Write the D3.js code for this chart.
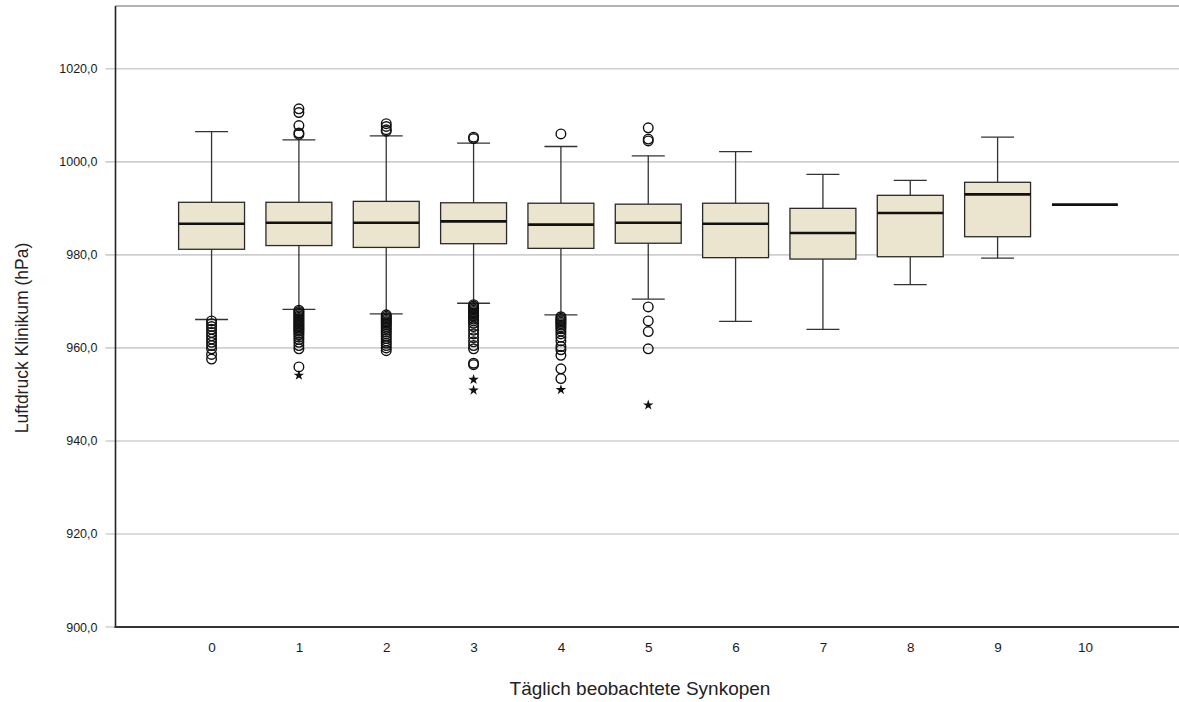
<!DOCTYPE html>
<html>
<head>
<meta charset="utf-8">
<script src="https://cdn.jsdelivr.net/npm/d3@7"></script>
<style>
  body { margin: 0; background: #fff; }
  text { font-family: "Liberation Sans", Arial, sans-serif; fill: #222; }
</style>
</head>
<body>
<script>
//data
var categories = [0, 1, 2, 3, 4, 5, 6, 7, 8, 9, 10];
var lowWhisker = [966.1, 968.3, 967.3, 969.6, 967.1, 970.5, 965.7, 964.0, 973.6, 979.3, 990.8];
var q1 = [981.2, 982.0, 981.6, 982.4, 981.4, 982.5, 979.4, 979.1, 979.6, 983.9, 990.8];
var medians = [986.7, 986.9, 986.9, 987.2, 986.5, 986.9, 986.7, 984.7, 989.0, 993.0, 990.8];
var q3 = [991.3, 991.3, 991.5, 991.2, 991.1, 990.9, 991.1, 990.0, 992.8, 995.6, 990.8];
var highWhisker = [1006.5, 1004.7, 1005.6, 1004.0, 1003.3, 1001.3, 1002.2, 997.3, 996.0, 1005.3, 990.8];

//outliers (circles) per category
var outliers = [
    [965.8, 965.2, 964.6, 964.0, 963.3, 962.6, 961.9, 961.2, 960.5, 959.8, 958.6, 957.6],
    [1011.4, 1010.6, 1007.8, 1006.2, 1005.9,
     968.1, 967.8, 967.5, 967.2, 966.9, 966.6, 966.3, 966.0, 965.7, 965.4, 965.1, 964.8, 964.5,
     964.2, 963.9, 963.6, 963.2, 962.8, 962.3, 961.8, 961.2, 960.5, 959.8, 955.9],
    [1008.2, 1007.6, 1006.9, 1006.6,
     967.1, 966.8, 966.5, 966.2, 965.9, 965.6, 965.3, 965.0, 964.6, 964.2, 963.8, 963.4, 963.0,
     962.5, 962.0, 961.5, 961.0, 960.5, 960.0, 959.4],
    [1005.3, 1005.0,
     969.3, 969.0, 968.7, 968.4, 968.1, 967.8, 967.5, 967.2, 966.9, 966.6, 966.2, 965.8, 965.3,
     964.6, 963.8, 963.0, 962.2, 961.3, 960.5, 959.8, 956.7, 956.4],
    [1006.0,
     966.7, 966.4, 966.1, 965.8, 965.5, 965.2, 964.9, 964.5, 964.1, 963.6, 963.0, 962.3, 961.5,
     960.3, 959.6, 958.4, 955.5, 953.4],
    [1007.3, 1004.9, 1004.5, 968.8, 965.8, 963.5, 959.8],
    [], [], [], [], []
];
//extremes (stars) per category
var extremes = [[], [954.1], [], [953.2, 950.9], [951.0], [947.7], [], [], [], [], []];

var yTicks = [900, 920, 940, 960, 980, 1000, 1020];

var w = 1179, h = 702;
var plotL = 115.5, plotT = 6, plotB = 627, plotR = 1181;

var svg = d3.select("body").append("svg")
    .attr("width", w)
    .attr("height", h);

var x = d3.scalePoint()
    .domain(categories)
    .range([plotL, plotR])
    .padding(1.1);

var y = d3.scaleLinear()
    .domain([900, 1033.5])
    .range([plotB, plotT]);

var boxW = x.step() * 0.755;
var capW = boxW / 2;

//gridlines (they poke out left of the axis like ticks)
svg.append("g").selectAll("line")
    .data(yTicks)
    .enter()
    .append("line")
    .attr("x1", plotL - 10)
    .attr("x2", w)
    .attr("y1", function(d){ return y(d); })
    .attr("y2", function(d){ return y(d); })
    .style("stroke", "#cfcfcf")
    .style("stroke-width", 1.6);

//y tick labels via axis
var yAxis = svg.append("g")
    .attr("transform", "translate(" + (plotL - 18) + ",0)")
    .call(d3.axisLeft(y).tickValues(yTicks).tickSize(0).tickFormat(function(d){
        return d3.format(".1f")(d).replace(".", ",");
    }));
yAxis.select(".domain").remove();
yAxis.selectAll("text")
    .attr("x", 0)
    .style("font-size", "12.5px")
    .style("font-family", "'Liberation Sans', Arial, sans-serif")
    .style("fill", "#1a1a1a");

//frame: top border, left + bottom axes
svg.append("line")
    .attr("x1", plotL).attr("x2", w)
    .attr("y1", plotT).attr("y2", plotT)
    .style("stroke", "#666").style("stroke-width", 1);
svg.append("line")
    .attr("x1", plotL).attr("x2", plotL)
    .attr("y1", plotT).attr("y2", plotB)
    .style("stroke", "#222").style("stroke-width", 1.6);
svg.append("line")
    .attr("x1", plotL - 1).attr("x2", w)
    .attr("y1", plotB).attr("y2", plotB)
    .style("stroke", "#333").style("stroke-width", 2);

//x tick labels via axis
var xAxis = svg.append("g")
    .attr("transform", "translate(0," + (plotB + 12) + ")")
    .call(d3.axisBottom(x).tickSize(0));
xAxis.select(".domain").remove();
xAxis.selectAll("text")
    .style("font-size", "13.5px")
    .style("font-family", "'Liberation Sans Narrow', 'Liberation Sans', Arial, sans-serif")
    .style("fill", "#1a1a1a");

var boxes = svg.selectAll(".box")
    .data(categories)
    .enter()
    .append("g")
    .attr("class", "box");

//whiskers
boxes.append("line")
    .attr("x1", function(d){ return x(d); })
    .attr("x2", function(d){ return x(d); })
    .attr("y1", function(d, i){ return y(highWhisker[i]); })
    .attr("y2", function(d, i){ return y(q3[i]); })
    .style("stroke", "#333").style("stroke-width", 1.3);
boxes.append("line")
    .attr("x1", function(d){ return x(d); })
    .attr("x2", function(d){ return x(d); })
    .attr("y1", function(d, i){ return y(q1[i]); })
    .attr("y2", function(d, i){ return y(lowWhisker[i]); })
    .style("stroke", "#333").style("stroke-width", 1.3);

//caps (skip the degenerate box)
boxes.filter(function(d, i){ return highWhisker[i] !== lowWhisker[i]; })
    .each(function(d){
        var i = categories.indexOf(d);
        var g = d3.select(this);
        [highWhisker[i], lowWhisker[i]].forEach(function(v){
            g.append("line")
                .attr("x1", x(d) - capW / 2)
                .attr("x2", x(d) + capW / 2)
                .attr("y1", y(v))
                .attr("y2", y(v))
                .style("stroke", "#333").style("stroke-width", 1.3);
        });
    });

//box
boxes.filter(function(d, i){ return q3[i] !== q1[i]; })
    .append("rect")
    .attr("x", function(d){ return x(d) - boxW / 2; })
    .attr("width", boxW)
    .attr("y", function(d){ return y(q3[categories.indexOf(d)]); })
    .attr("height", function(d){
        var i = categories.indexOf(d);
        return y(q1[i]) - y(q3[i]);
    })
    .style("fill", "#ebe5d0")
    .style("stroke", "#2a2a2a")
    .style("stroke-width", 1.3);

//median
boxes.append("line")
    .attr("x1", function(d){ return x(d) - boxW / 2; })
    .attr("x2", function(d){ return x(d) + boxW / 2; })
    .attr("y1", function(d, i){ return y(medians[i]); })
    .attr("y2", function(d, i){ return y(medians[i]); })
    .style("stroke", "#111").style("stroke-width", 2.6);

//outlier circles
boxes.selectAll(".outlier")
    .data(function(d, i){ return outliers[i].map(function(v){ return {c: d, v: v}; }); })
    .enter()
    .append("circle")
    .attr("class", "outlier")
    .attr("cx", function(d){ return x(d.c); })
    .attr("cy", function(d){ return y(d.v); })
    .attr("r", 4.8)
    .style("fill", "none")
    .style("stroke", "#111")
    .style("stroke-width", 1.4);

//extreme stars
var star = d3.symbol().type(d3.symbolStar).size(34);
boxes.selectAll(".extreme")
    .data(function(d, i){ return extremes[i].map(function(v){ return {c: d, v: v}; }); })
    .enter()
    .append("path")
    .attr("class", "extreme")
    .attr("d", star)
    .attr("transform", function(d){ return "translate(" + x(d.c) + "," + y(d.v) + ")"; })
    .style("fill", "#111");

//axis titles
svg.append("text")
    .attr("text-anchor", "middle")
    .attr("x", 640)
    .attr("y", 695)
    .style("font-size", "19px")
    .text("Täglich beobachtete Synkopen");

svg.append("text")
    .attr("text-anchor", "middle")
    .attr("transform", "translate(28,338) rotate(-90)")
    .style("font-size", "17.5px")
    .text("Luftdruck Klinikum (hPa)");
</script>
</body>
</html>
